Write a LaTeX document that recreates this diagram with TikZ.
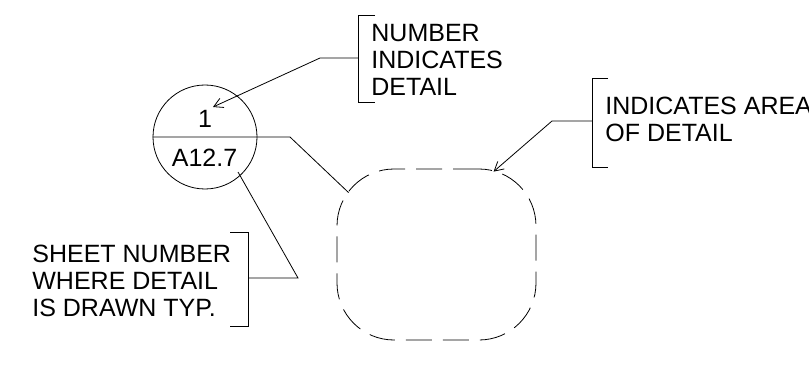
\documentclass[tikz,border=0pt]{standalone}
\usepackage{fontspec}
\setmainfont{Liberation Sans}
\usetikzlibrary{arrows.meta}
\begin{document}
\begin{tikzpicture}[x=1pt,y=-1pt,line width=0.8pt,inner sep=0,
  >={Straight Barb[length=9pt,width=10pt]},
  lbl/.style={font=\fontsize{25}{27}\selectfont},
  callout/.style={lbl,anchor=north west,align=left}]
\useasboundingbox (0,0) rectangle (809,385);

%detail bubble
\node[draw,circle,minimum size=104pt] (bubble) at (205,137) {};
\node[lbl,anchor=base] (detnum) at (205,128) {1}; %detail number
\node[lbl,anchor=base] (sheetnum) at (204.5,167) {A12.7}; %sheet number
\coordinate (knee) at (290,137);

%area of detail
\node[draw,dash pattern=on 26pt off 11pt,rounded corners=57pt,
      minimum width=199pt,minimum height=171pt] (area) at (436.5,254.5) {};
\coordinate (areahit) at ([shift={(12,24)}]area.north west);
\coordinate (areatip) at ([shift={(157,3)}]area.north west);
\draw (bubble.west) -- (knee) -- (areahit); %bubble to area

%number indicates detail
\node[callout] (numtxt) at (371,24) {NUMBER\\INDICATES\\DETAIL};
\draw (375,15) -- (358,15) -- (358,102) -- (375,102); %bracket
\coordinate (numbrk) at (358,58);
\coordinate (numelb) at (320,58);
\coordinate (numtip) at (213,107);
\draw[->] (numbrk) -- (numelb) -- (numtip);

%indicates area of detail
\node[callout] (areatxt) at (605,97) {INDICATES AREA\\OF DETAIL};
\draw (608,78) -- (592,78) -- (592,167) -- (608,167); %bracket
\coordinate (areabrk) at (592,121);
\coordinate (areaelb) at (552,121);
\draw[->] (areabrk) -- (areaelb) -- (areatip);

%sheet number where drawn
\node[callout] (sheettxt) at (32,245) {SHEET NUMBER\\WHERE DETAIL\\IS DRAWN TYP.};
\draw (230,232) -- (248,232) -- (248,326) -- (230,326); %bracket
\coordinate (sheetbrk) at (248,278);
\coordinate (sheetelb) at (298,278);
\coordinate (sheetstart) at (238,172);
\draw (sheetbrk) -- (sheetelb) -- (sheetstart);
\end{tikzpicture}
\end{document}
